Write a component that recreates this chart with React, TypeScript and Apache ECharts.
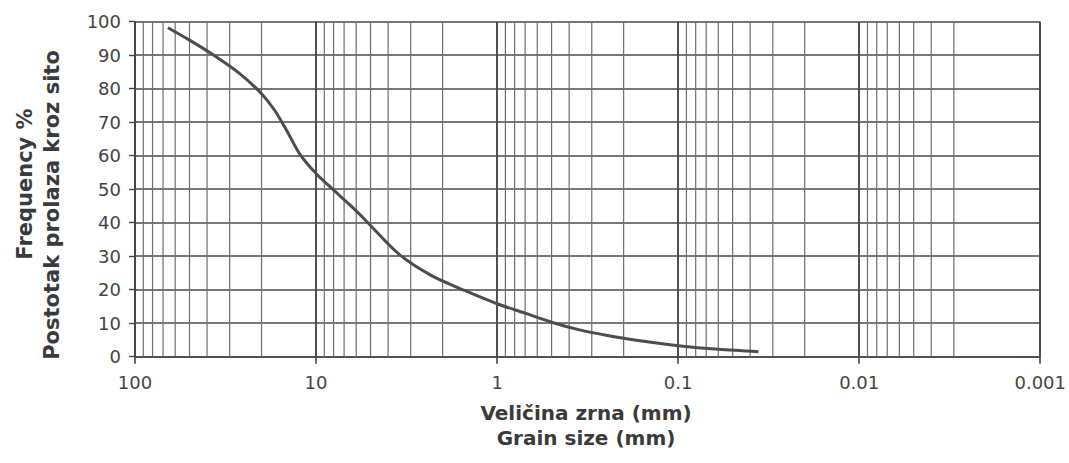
import React, { useEffect, useRef } from "react";
import * as echarts from "echarts";

// Grain size (mm) and cumulative percentage passing
const grainSizes = [65.8, 50, 37.2, 26.4, 20, 16.9, 14.35, 12.3, 10, 8.1, 6.5, 5.3, 3.5, 2.3, 1.5, 1.0, 0.7, 0.5, 0.35, 0.25, 0.17, 0.1, 0.06, 0.036];
const percentPassing = [98.2, 94.5, 90.2, 84.5, 78.5, 73.5, 67, 60.5, 54.7, 50, 45.3, 40.6, 30.7, 24.2, 19.7, 15.8, 13, 10.3, 8, 6.4, 4.9, 3.3, 2.2, 1.5];

// Minor vertical grid lines (2..9 × decade); 0.002 is absent in the original
const minorGrid = [
  90, 80, 70, 60, 50, 40, 30, 20,
  9, 8, 7, 6, 5, 4, 3, 2,
  0.9, 0.8, 0.7, 0.6, 0.5, 0.4, 0.3, 0.2,
  0.09, 0.08, 0.07, 0.06, 0.05, 0.04, 0.03, 0.02,
  0.009, 0.008, 0.007, 0.006, 0.005, 0.004, 0.003,
];
const percentRange = [0, 100];

const yTitleTop = "Frequency %";
const yTitleBottom = "Postotak prolaza kroz sito";
const xTitleTop = "Veličina zrna (mm)";
const xTitleBottom = "Grain size (mm)";

const FONT = "DejaVu Sans";

export default function App() {
  const ref = useRef<HTMLDivElement>(null);
  useEffect(() => {
    if (!ref.current) return;
    const chart = echarts.init(ref.current, null, { renderer: "svg" });
    const data = grainSizes.map((s, i) => [s, percentPassing[i]]);
    const gridData: any[] = [];
    minorGrid.forEach((v) => {
      gridData.push([v, percentRange[0]]);
      gridData.push([v, percentRange[1]]);
      gridData.push([v, null]);
    });
    chart.setOption({
      animation: false,
      backgroundColor: "#ffffff",
      grid: { left: 135, right: 25, top: 21.7, bottom: 106.3 },
      xAxis: {
        type: "log",
        logBase: 10,
        inverse: true,
        min: 0.001,
        max: 100,
        axisLine: { show: true, onZero: false, lineStyle: { color: "#444", width: 1.6 } },
        axisTick: { show: true, length: 7, lineStyle: { color: "#444", width: 1.6 } },
        axisLabel: {
          margin: 17,
          color: "#444",
          fontFamily: FONT,
          fontSize: 18,
          formatter: (v: number) => String(Number(Number(v).toPrecision(3))),
        },
        splitLine: { show: true, lineStyle: { color: "#484848", width: 1.9 } },
      },
      yAxis: {
        type: "value",
        min: 0,
        max: 100,
        interval: 10,
        axisLine: { show: true, lineStyle: { color: "#444", width: 1.6 } },
        axisTick: { show: true, length: 6, lineStyle: { color: "#444", width: 1.4 } },
        axisLabel: { margin: 14, color: "#444", fontFamily: FONT, fontSize: 18 },
        splitLine: { show: true, lineStyle: { color: "#4a4a4a", width: 1.5 } },
      },
      series: [
        {
          type: "line",
          data: gridData,
          silent: true,
          showSymbol: false,
          connectNulls: false,
          z: 1,
          lineStyle: { color: "#6e6e6e", width: 1.2 },
        },
        {
          type: "line",
          data,
          smooth: 0.3,
          showSymbol: false,
          z: 5,
          lineStyle: { color: "#4d4d4d", width: 3 },
        },
      ],
      graphic: [
        {
          type: "text",
          x: 25,
          y: 184,
          rotation: Math.PI / 2,
          style: {
            text: yTitleTop,
            fontFamily: FONT,
            fontWeight: "bold",
            fontSize: 21,
            fill: "#3a3a3a",
            align: "center",
            verticalAlign: "middle",
          },
        },
        {
          type: "text",
          x: 52,
          y: 205,
          rotation: Math.PI / 2,
          style: {
            text: yTitleBottom,
            fontFamily: FONT,
            fontWeight: "bold",
            fontSize: 21,
            fill: "#3a3a3a",
            align: "center",
            verticalAlign: "middle",
          },
        },
        {
          type: "text",
          x: 586,
          y: 413,
          style: {
            text: xTitleTop,
            fontFamily: FONT,
            fontWeight: "bold",
            fontSize: 20,
            fill: "#3a3a3a",
            align: "center",
            verticalAlign: "middle",
          },
        },
        {
          type: "text",
          x: 586,
          y: 438,
          style: {
            text: xTitleBottom,
            fontFamily: FONT,
            fontWeight: "bold",
            fontSize: 20,
            fill: "#3a3a3a",
            align: "center",
            verticalAlign: "middle",
          },
        },
      ],
    });
    return () => chart.dispose();
  }, []);
  return (
    <div
      ref={ref}
      style={{ position: "absolute", left: 0, top: 0, width: 1069, height: 463 }}
    />
  );
}
